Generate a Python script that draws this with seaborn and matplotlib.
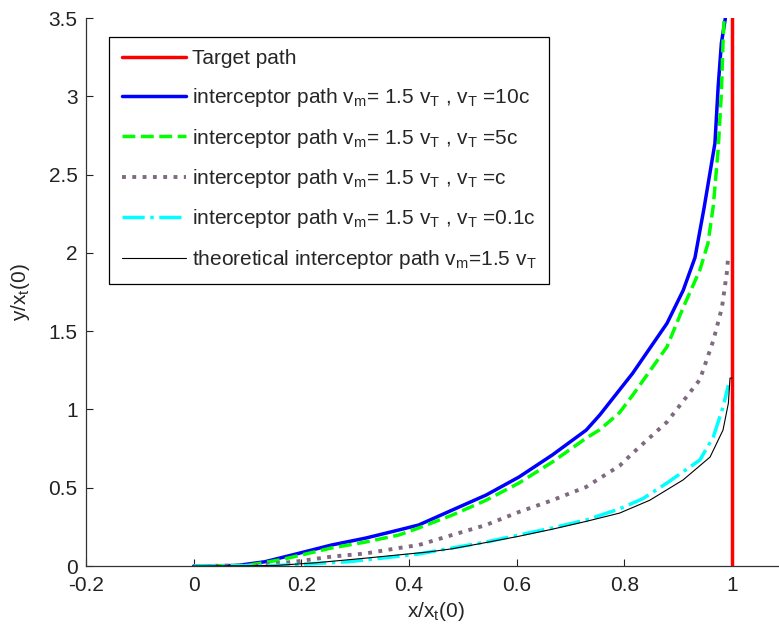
import matplotlib
matplotlib.use("Agg")
import matplotlib.pyplot as plt
import pandas as pd
import seaborn as sns

# values (x/x_t(0), y/x_t(0))
target_x = [1.0, 1.0]
target_y = [0.0, 3.6]

x_10c = [0.0, 0.08, 0.132, 0.194, 0.256, 0.319, 0.381, 0.418, 0.48, 0.543, 0.604, 0.666,
         0.729, 0.754, 0.815, 0.879, 0.909, 0.931, 0.948, 0.968, 0.974, 0.980, 0.987, 0.990]
y_10c = [0.0, 0.003, 0.027, 0.08, 0.134, 0.178, 0.23, 0.262, 0.357, 0.453, 0.568, 0.709,
         0.868, 0.964, 1.23, 1.55, 1.76, 1.97, 2.29, 2.70, 3.06, 3.34, 3.49, 3.60]

x_5c = [0.0, 0.10, 0.162, 0.256, 0.319, 0.381, 0.418, 0.48, 0.543, 0.604, 0.666, 0.729,
        0.754, 0.791, 0.815, 0.879, 0.909, 0.940, 0.955, 0.965, 0.974, 0.980, 0.983, 0.985, 0.987]
y_5c = [0.0, 0.004, 0.04, 0.115, 0.153, 0.198, 0.243, 0.325, 0.42, 0.53, 0.664, 0.817,
        0.87, 0.98, 1.09, 1.40, 1.65, 1.89, 2.06, 2.30, 2.66, 3.02, 3.34, 3.50, 3.60]

x_c = [0.0, 0.12, 0.194, 0.256, 0.319, 0.381, 0.418, 0.48, 0.543, 0.604, 0.666, 0.729,
       0.754, 0.791, 0.815, 0.879, 0.940, 0.965, 0.981, 0.990, 0.993]
y_c = [0.0, 0.004, 0.03, 0.06, 0.08, 0.115, 0.134, 0.198, 0.262, 0.345, 0.42, 0.505,
       0.56, 0.64, 0.72, 0.92, 1.19, 1.44, 1.65, 1.87, 1.99]

x_01c = [0.0, 0.15, 0.194, 0.287, 0.349, 0.418, 0.48, 0.543, 0.604, 0.666, 0.729, 0.791,
         0.834, 0.879, 0.940, 0.965, 0.983, 0.993]
y_01c = [0.0, 0.003, 0.01, 0.027, 0.05, 0.077, 0.115, 0.153, 0.198, 0.243, 0.294, 0.365,
         0.43, 0.53, 0.677, 0.824, 1.015, 1.155]

x_theo = [0.0, 0.15, 0.225, 0.319, 0.437, 0.48, 0.543, 0.604, 0.666, 0.729, 0.791, 0.847,
          0.909, 0.959, 0.983, 0.993, 0.996, 1.0]
y_theo = [0.0, 0.003, 0.02, 0.05, 0.09, 0.11, 0.15, 0.19, 0.235, 0.285, 0.338, 0.42,
          0.55, 0.696, 0.868, 1.04, 1.20, 1.20]

labels = [
    "Target path",
    r"interceptor path v$_{\mathrm{m}}$= 1.5 v$_{\mathrm{T}}$ , v$_{\mathrm{T}}$ =10c",
    r"interceptor path v$_{\mathrm{m}}$= 1.5 v$_{\mathrm{T}}$ , v$_{\mathrm{T}}$ =5c",
    r"interceptor path v$_{\mathrm{m}}$= 1.5 v$_{\mathrm{T}}$ , v$_{\mathrm{T}}$ =c",
    r"interceptor path v$_{\mathrm{m}}$= 1.5 v$_{\mathrm{T}}$ , v$_{\mathrm{T}}$ =0.1c",
    r"theoretical interceptor path v$_{\mathrm{m}}$=1.5 v$_{\mathrm{T}}$",
]

sns.set_theme(style="white")
plt.rcParams["font.family"] = ["Liberation Sans", "DejaVu Sans"]
plt.rcParams["mathtext.fontset"] = "custom"
plt.rcParams["mathtext.rm"] = "Liberation Sans"

fig = plt.figure(figsize=(7.79, 6.26), dpi=100)
# axes runs past the right edge of the figure, like the cropped original
ax = fig.add_axes([86 / 779, 60 / 626, 700 / 779, 548 / 626])

series = [
    (target_x, target_y, "#ff0000", "-", 2.5),
    (x_10c, y_10c, "#0000ff", "-", 2.5),
    (x_5c, y_5c, "#00ff00", "--", 2.5),
    (x_c, y_c, "#7f6a7f", ":", 2.8),
    (x_01c, y_01c, "#00ffff", "-.", 2.5),
    (x_theo, y_theo, "#000000", "-", 0.8),
]
for (xs, ys, col, ls, lw), lab in zip(series, labels):
    df = pd.DataFrame({"x": xs, "y": ys})
    sns.lineplot(data=df, x="x", y="y", sort=False, estimator=None, color=col,
                 linestyle=ls, linewidth=lw, label=lab, ax=ax)

ax.set_xlim(-0.2, 1.1)
ax.set_ylim(0, 3.5)
ax.set_xticks([-0.2, 0, 0.2, 0.4, 0.6, 0.8, 1])
ax.set_xticklabels(["-0.2", "0", "0.2", "0.4", "0.6", "0.8", "1"])
ax.set_yticks([0, 0.5, 1, 1.5, 2, 2.5, 3, 3.5])
ax.set_yticklabels(["0", "0.5", "1", "1.5", "2", "2.5", "3", "3.5"])
ax.tick_params(direction="in", length=5, width=0.8, labelsize=15, colors="#222222",
               left=True, bottom=True)
ax.tick_params(axis="x", pad=7.5)
ax.tick_params(axis="y", pad=6)
for s in ["top", "right"]:
    ax.spines[s].set_visible(False)
for s in ["left", "bottom"]:
    ax.spines[s].set_color("#333333")
    ax.spines[s].set_linewidth(0.9)

ax.set_xlabel(r"x/x$_{\mathrm{t}}$(0)", fontsize=15, labelpad=3)
ax.set_ylabel(r"y/x$_{\mathrm{t}}$(0)", fontsize=15, labelpad=12)

leg = ax.legend(loc="upper left", bbox_to_anchor=(23 / 700, 1 - 19 / 548), fontsize=15,
                frameon=True, fancybox=False, framealpha=1, edgecolor="black",
                handlelength=3.1, handletextpad=0.28, labelspacing=0.84, borderpad=0.6,
                borderaxespad=0)
leg.get_frame().set_linewidth(0.9)

fig.savefig("out.png", dpi=100)
